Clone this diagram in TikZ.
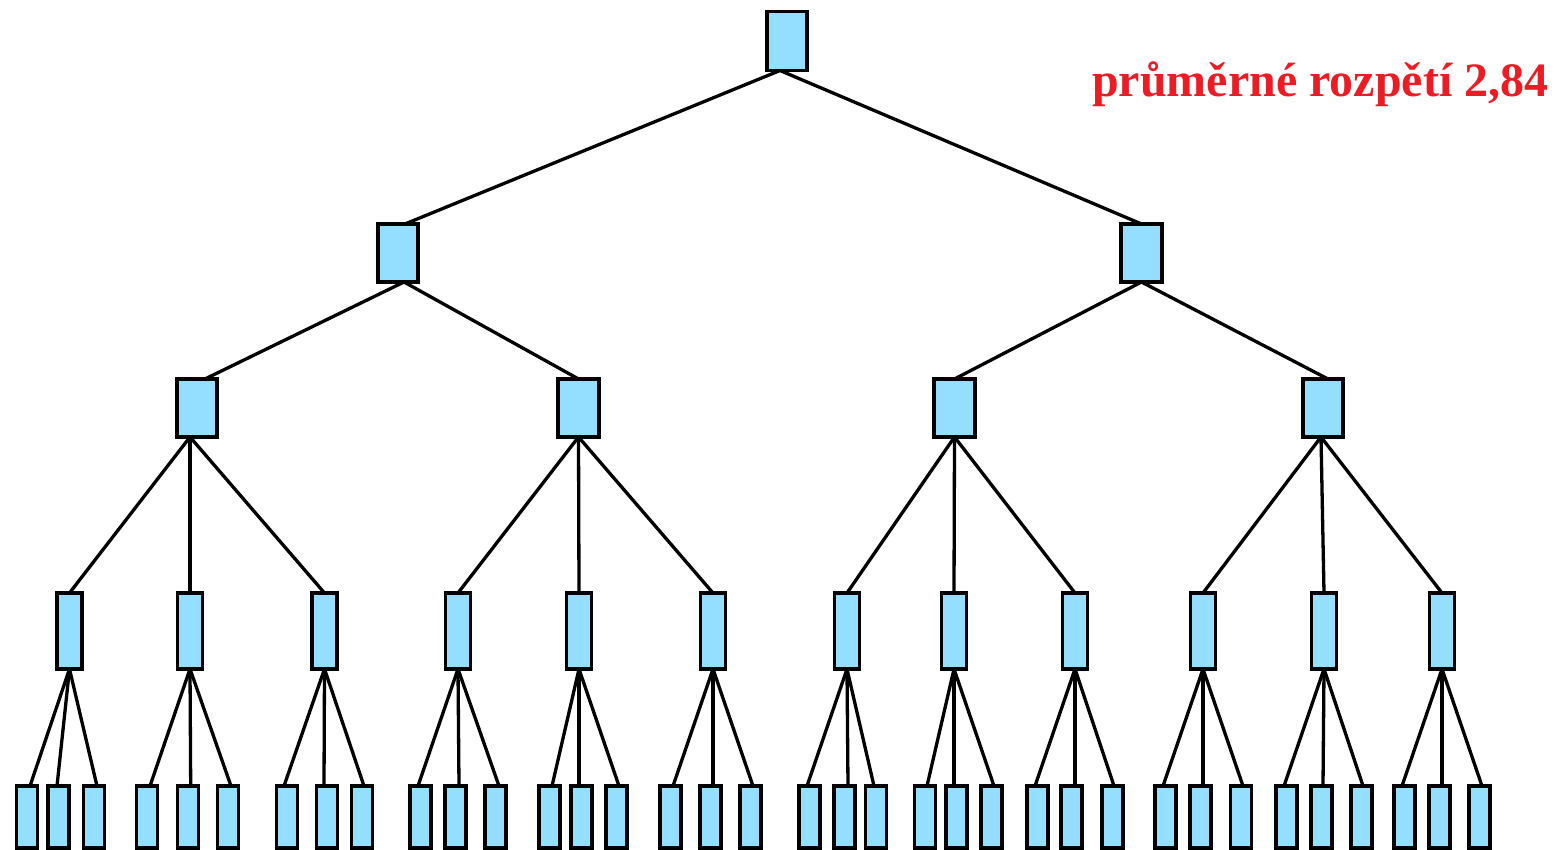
\documentclass[tikz,border=0pt]{standalone}
\usepackage{fontspec}
\setmainfont{Liberation Serif}
\definecolor{boxfill}{RGB}{148,222,255}
\definecolor{lblred}{RGB}{237,28,36}
\begin{document}
\begin{tikzpicture}[x=1pt,y=-1pt,
  bx/.style={draw=black,fill=boxfill,line width=3.8pt,inner sep=0pt,outer sep=0pt},
  n0/.style={bx,minimum width=40pt,minimum height=59pt},
  n1/.style={bx,minimum width=40.5pt,minimum height=58pt},
  n3/.style={bx,minimum width=25pt,minimum height=76pt},
  n4/.style={bx,minimum width=21pt,minimum height=62pt},
  ln/.style={line width=3.3pt,draw=black}]
\useasboundingbox (0,0) rectangle (1558,850);
\node[n0] (root) at (787,41) {};
\node[n1] (a1) at (398,253) {};
\node[n1] (a2) at (1141.5,253) {};
\node[n1] (b1) at (197,408) {};
\node[n1] (b2) at (578.5,408) {};
\node[n1] (b3) at (954.5,408) {};
\node[n1] (b4) at (1323,408) {};
\foreach \x [count=\i] in {69.5,190,324.5,458,579,713,847,954,1075,1203,1324,1442}
  \node[n3] (c\i) at (\x,631) {};
\foreach \x [count=\i] in {27,58.5,94,147,188,228,287,327,362,420.5,455.5,495.5,549.5,581.5,616.5,670.5,710.5,750.5,809.5,844.5,876,925,956.5,991.5,1037.5,1071.5,1112.5,1165.5,1200.5,1241,1286.5,1321.5,1361.5,1404.5,1439.5,1479.5}
  \node[n4] (d\i) at (\x,817) {};
% connectors
\draw[ln] ([xshift=-7pt]root.south) -- ([xshift=7pt]a1.north);
\draw[ln] ([xshift=-7pt]root.south) -- (a2.north);
\draw[ln] ([xshift=6pt]a1.south) -- ([xshift=8pt]b1.north);
\draw[ln] ([xshift=6pt]a1.south) -- (b2.north);
\draw[ln] (a2.south) -- (b3.north);
\draw[ln] (a2.south) -- ([xshift=5pt]b4.north);
\foreach \i in {1,2,3} \draw[ln] ([xshift=-7pt]b1.south) -- (c\i.north);
\foreach \i in {4,5,6} \draw[ln] (b2.south) -- (c\i.north);
\foreach \i in {7,8,9} \draw[ln] (b3.south) -- (c\i.north);
\foreach \i in {10,11,12} \draw[ln] ([xshift=-2pt]b4.south) -- (c\i.north);
\foreach \o [count=\i] in {3,-1.5,3,3,2.7,3,-3,-3,2,-2.5,3.5,3.5,2.5,-2.5,2.5,2.5,2.5,2.5,-2.5,3.5,-2,2,-2.5,2.5,-2.5,3.5,1.5,-2.5,2.5,2,-2.5,1.5,1.5,-2.5,2.5,2.5}{
  \pgfmathtruncatemacro\p{(\i+2)/3}
  \draw[ln] (c\p.south) -- ([xshift=\o pt]d\i.north);
}
\node[anchor=base west,inner sep=0pt,text=lblred,font=\fontsize{48}{48}\selectfont\bfseries] (lbl) at (1092,97) {průměrné rozpětí 2,84};
\end{tikzpicture}
\end{document}
